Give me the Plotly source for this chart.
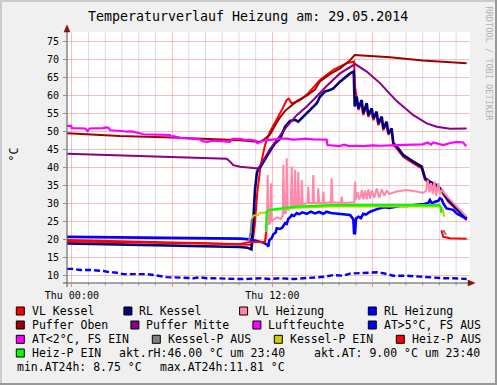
import plotly.graph_objects as go

# ---------------- data: (hour of day, value) ----------------
hour_ticks = [0, 6, 12, 18]
hour_labels = ["Thu 00:00", "", "Thu 12:00", ""]
minor_hours = [h for h in range(0, 24) if h % 6 != 0]

vl_kessel = [(-0.28, 19.7), (2.0, 19.5), (4.0, 19.3), (6.0, 19.1), (8.0, 18.8), (10.0, 18.5), (10.7, 18.3),
             (10.8, 18.4), (10.95, 24.0), (11.1, 33.0), (11.3, 40.5), (11.46, 44.5), (11.56, 46.1), (11.86, 49.8),
             (12.26, 53.1), (12.56, 55.8), (12.86, 58.6), (12.98, 59.0), (13.16, 57.7), (13.4, 58.0), (13.66, 58.6),
             (14.15, 60.5), (14.85, 64.2), (15.65, 67.0), (16.45, 68.8), (16.89, 69.3), (16.95, 62.3), (17.05, 59.0),
             (17.15, 55.8), (17.35, 58.1), (17.44, 54.4), (17.65, 57.2), (17.74, 53.9), (17.95, 55.8), (18.04, 53.0),
             (18.24, 54.9), (18.34, 51.6), (18.55, 53.5), (18.64, 50.2), (18.84, 52.1), (18.94, 48.9), (19.14, 50.2),
             (19.24, 46.1), (19.44, 45.2), (19.84, 42.8), (20.44, 41.0), (20.94, 39.6), (21.14, 36.4), (21.43, 35.4),
             (21.84, 34.5), (22.14, 33.1), (22.53, 30.3), (22.93, 28.5), (23.3, 27.0), (23.63, 25.2)]

rl_kessel = [(-0.28, 18.8), (2.0, 18.6), (4.0, 18.4), (6.0, 18.2), (8.0, 18.0), (10.07, 17.8), (10.5, 17.6),
             (10.75, 17.1), (10.86, 25.0), (10.96, 33.6), (11.07, 38.2), (11.16, 39.6), (11.3, 40.1), (11.46, 41.5),
             (11.66, 42.9), (11.96, 45.2), (12.16, 46.6), (12.46, 47.8), (12.76, 51.2), (13.06, 52.8), (13.36, 53.1),
             (13.55, 52.6), (13.85, 54.0), (14.25, 55.8), (14.66, 57.7), (14.85, 59.5), (15.15, 61.0), (15.45, 61.4),
             (15.65, 61.8), (16.05, 63.7), (16.45, 65.1), (16.65, 66.0), (16.87, 66.5), (16.93, 56.8), (17.05, 59.5),
             (17.15, 56.3), (17.35, 58.6), (17.44, 54.9), (17.65, 57.7), (17.74, 54.4), (17.95, 56.3), (18.04, 53.5),
             (18.24, 55.4), (18.34, 52.1), (18.55, 54.0), (18.64, 50.7), (18.84, 52.6), (18.94, 49.4), (19.14, 50.7),
             (19.24, 46.6), (19.44, 45.7), (19.84, 43.3), (20.44, 41.5), (20.94, 40.1), (21.14, 36.9), (21.43, 35.9),
             (21.84, 35.0), (22.14, 33.6), (22.53, 30.8), (22.93, 29.0), (23.3, 27.3), (23.63, 25.7)]

vl_heizung = [(11.56, 19.0), (11.66, 21.0), (11.72, 37.8), (11.78, 24.0), (11.88, 24.5), (11.92, 35.5), (11.97, 24.8),
              (12.1, 25.5), (12.3, 26.0), (12.5, 25.5), (12.62, 26.5), (12.66, 40.6), (12.72, 27.0), (12.82, 27.5),
              (12.86, 42.4), (12.92, 28.0), (13.1, 28.8), (13.16, 40.1), (13.22, 28.5), (13.32, 29.0), (13.36, 39.2),
              (13.42, 29.0), (13.52, 29.5), (13.55, 38.7), (13.61, 29.5), (13.72, 29.6), (13.76, 36.4), (13.82, 29.6),
              (14.1, 30.0), (14.15, 34.5), (14.2, 30.0), (14.4, 30.0), (14.45, 37.8), (14.5, 30.0), (14.7, 30.0),
              (14.75, 34.1), (14.8, 30.0), (15.0, 30.0), (15.05, 33.2), (15.1, 30.0), (15.5, 30.2), (15.55, 36.9),
              (15.6, 30.2), (16.1, 30.0), (16.15, 31.8), (16.2, 30.0), (16.9, 30.2), (16.95, 35.9), (17.0, 31.0),
              (17.1, 33.0), (17.2, 31.0), (17.3, 32.0), (17.35, 33.6), (17.45, 31.0), (17.55, 33.5), (17.65, 31.0),
              (17.75, 33.8), (17.85, 31.2), (17.95, 33.5), (18.1, 31.5), (18.25, 34.0), (18.4, 31.5), (18.55, 33.8),
              (18.7, 32.0), (18.85, 33.5), (19.0, 32.5), (19.44, 33.2), (20.04, 33.6), (20.64, 33.2), (21.04, 32.8),
              (21.2, 33.5), (21.3, 36.4), (21.4, 33.0), (21.5, 35.5), (21.6, 32.5), (21.7, 36.0), (21.8, 32.0),
              (21.93, 35.5), (22.03, 32.5), (22.14, 33.6), (22.53, 31.5), (22.93, 29.5), (23.33, 27.5), (23.63, 26.2)]

rl_heizung = [(-0.28, 20.6), (3.0, 20.5), (6.0, 20.4), (9.0, 20.2), (10.07, 20.1), (10.66, 19.9), (11.0, 19.6),
              (11.46, 19.0), (11.7, 18.4), (11.76, 17.9), (11.82, 19.7), (11.96, 20.2), (12.06, 21.3), (12.2, 21.8),
              (12.26, 23.0), (12.46, 22.8), (12.6, 23.2), (12.76, 24.4), (12.86, 24.2), (12.96, 25.6), (13.1, 26.2),
              (13.16, 26.7), (13.3, 26.4), (13.46, 27.2), (13.6, 26.9), (13.8, 27.4), (14.06, 27.0), (14.3, 27.6),
              (14.55, 27.1), (14.8, 27.5), (15.05, 27.0), (15.25, 27.6), (15.5, 27.2), (15.85, 27.1), (16.2, 26.9),
              (16.65, 26.7), (16.8, 25.8), (16.85, 25.3), (16.89, 21.6), (16.95, 21.6), (17.01, 25.7), (17.15, 26.2),
              (17.3, 25.8), (17.44, 27.0), (17.6, 26.8), (17.85, 27.6), (18.05, 27.9), (18.24, 28.3), (18.5, 28.6),
              (18.74, 28.8), (19.0, 28.6), (19.24, 28.8), (19.64, 29.2), (20.1, 29.2), (20.64, 29.4), (21.1, 29.7),
              (21.33, 30.0), (21.43, 30.8), (21.55, 29.9), (21.7, 30.3), (21.93, 30.6), (22.03, 31.3), (22.14, 31.0),
              (22.23, 29.9), (22.43, 28.5), (22.83, 28.1), (23.03, 27.1), (23.35, 26.4), (23.63, 25.6)]

puffer_oben = [(-0.28, 49.4), (2.88, 48.6), (6.0, 48.2), (9.0, 47.7), (10.07, 47.4), (10.96, 47.1), (11.26, 47.0),
               (11.46, 47.5), (11.86, 49.0), (12.16, 51.5), (12.46, 53.8), (12.76, 55.6), (13.06, 56.8), (13.46, 58.3),
               (14.06, 59.8), (14.55, 61.5), (14.85, 63.8), (15.45, 65.8), (16.05, 67.4), (16.55, 69.2), (16.93, 71.1),
               (19.04, 70.5), (21.0, 69.6), (23.63, 68.8)]

puffer_mitte = [(-0.28, 43.7), (4.0, 43.1), (8.0, 42.6), (9.27, 42.3), (9.47, 41.5), (9.66, 40.5), (10.07, 40.1),
                (10.96, 39.7), (11.16, 39.6), (11.46, 41.9), (11.86, 45.0), (12.26, 47.5), (12.86, 51.2), (13.46, 54.4),
                (14.06, 56.8), (14.55, 59.1), (15.25, 62.5), (16.05, 66.0), (16.85, 68.3), (16.95, 68.6), (17.65, 66.5),
                (18.44, 63.3), (19.44, 58.3), (20.44, 54.4), (21.24, 52.1), (21.84, 51.2), (22.63, 50.6), (23.63, 50.7)]

luftfeuchte = [(-0.28, 51.4), (-0.05, 51.4), (0.0, 50.8), (0.8, 50.7), (0.95, 50.0), (1.05, 50.7), (1.9, 50.8),
               (2.0, 51.0), (2.2, 50.9), (2.29, 50.2), (3.0, 50.0), (3.3, 49.8), (3.6, 49.9), (4.0, 49.4), (4.28, 49.1),
               (5.0, 49.0), (5.88, 48.9), (5.95, 48.2), (6.05, 48.6), (6.48, 48.1), (7.0, 48.0), (7.67, 47.7),
               (7.8, 47.2), (8.07, 47.0), (8.5, 47.3), (9.47, 47.0), (9.6, 47.8), (10.07, 47.8), (10.4, 47.5),
               (10.66, 47.6), (11.0, 47.3), (11.1, 46.6), (11.3, 47.0), (11.46, 47.3), (12.0, 47.6), (12.5, 47.9),
               (12.86, 47.9), (13.2, 47.6), (13.5, 47.7), (14.0, 47.9), (14.45, 47.7), (15.0, 47.6), (15.25, 47.6),
               (15.3, 46.1), (16.0, 45.8), (16.3, 46.2), (16.6, 45.8), (17.0, 45.9), (17.44, 45.8), (18.0, 46.0),
               (18.5, 45.9), (19.44, 46.1), (20.5, 46.1), (21.0, 46.3), (21.3, 46.8), (21.5, 46.2), (21.63, 46.8),
               (22.0, 46.4), (22.23, 46.1), (22.6, 46.6), (23.03, 47.0), (23.43, 46.8), (23.55, 46.0), (23.63, 45.9)]

at_fs_aus = [(-0.28, 11.7), (0.05, 11.7), (0.49, 11.4), (1.09, 11.4), (1.89, 11.1), (2.29, 10.75), (2.6, 10.7),
             (2.99, 10.5), (3.1, 10.25), (3.88, 10.25), (4.48, 10.25), (4.88, 10.0), (5.28, 9.8), (5.68, 9.4),
             (6.67, 9.25), (7.27, 9.1), (7.67, 9.35), (8.07, 9.1), (8.5, 9.1), (9.27, 8.9), (9.87, 8.9), (10.47, 8.9),
             (11.26, 9.1), (11.86, 8.9), (12.46, 9.1), (13.26, 8.9), (14.06, 9.25), (14.85, 9.55), (15.1, 9.5),
             (15.65, 10.0), (16.25, 9.8), (16.65, 10.4), (17.65, 10.75), (18.24, 10.75), (18.64, 10.5), (19.24, 9.8),
             (20.04, 9.8), (20.84, 9.55), (21.63, 9.25), (22.23, 9.1), (22.83, 9.1), (23.43, 8.9), (23.63, 8.9)]

at_fs_ein = []

kessel_p_aus = [(10.6, 19.5), (10.7, 22.0), (10.77, 25.6), None, (22.23, 22.5), (22.39, 21.2)]

kessel_p_ein = [(10.77, 25.6), (10.86, 26.5), (11.16, 26.7), (11.26, 27.3), (11.66, 27.3), (11.86, 27.9),
                (12.5, 28.3), (13.5, 28.7), (15.45, 29.0), (19.0, 29.0), (22.03, 29.0), (22.18, 28.6),
                (22.23, 27.6), (22.29, 26.2)]

heiz_p_aus = [(-0.28, 19.3), (3.0, 19.1), (6.0, 18.9), (9.0, 18.7), (10.07, 18.6), (10.66, 19.2), (11.56, 19.2),
              (11.62, 22.0), None, (22.12, 22.4), (22.23, 20.6), (22.63, 20.2), (23.63, 20.1)]

heiz_p_ein = [(11.62, 22.0), (11.66, 27.6), (11.86, 28.1), (12.66, 28.5), (13.46, 29.0), (15.45, 29.4),
              (22.0, 29.4), (22.06, 29.0), (22.12, 27.3)]

info_texts = ["akt.rH:46.00 °C um 23:40", "akt.AT: 9.00 °C um 23:40",
              "min.AT24h: 8.75 °C", "max.AT24h:11.81 °C"]

# ---------------- geometry ----------------
W, H = 497, 385
L, R, T, B = 67, 27, 32, 102
PW, PH = W - L - R, H - T - B
MONO = "DejaVu Sans Mono"


def fx(x):
    return (x - L) / PW


def fy(y):
    return (H - B - y) / PH


fig = go.Figure()

series = [
    ("VL Kessel", vl_kessel, "#ff0000", 2.0, None),
    ("RL Kessel", rl_kessel, "#000080", 2.6, None),
    ("VL Heizung", vl_heizung, "#ff88aa", 2.0, None),
    ("RL Heizung", rl_heizung, "#0000ff", 2.6, None),
    ("Puffer Oben", puffer_oben, "#a00000", 2.0, None),
    ("Puffer Mitte", puffer_mitte, "#880088", 2.0, None),
    ("Luftfeuchte", luftfeuchte, "#ff00ff", 2.2, None),
    ("AT>5°C, FS AUS", at_fs_aus, "#0000ff", 2.4, "6px,3px"),
    ("AT<2°C, FS EIN", at_fs_ein, "#ff00ff", 2.0, None),
    ("Kessel-P AUS", kessel_p_aus, "#808080", 2.0, None),
    ("Kessel-P EIN", kessel_p_ein, "#cccc00", 2.0, None),
    ("Heiz-P AUS", heiz_p_aus, "#ff0000", 2.0, None),
    ("Heiz-P EIN", heiz_p_ein, "#00ff00", 2.2, None),
]

for name, pairs, color, width, dash in series:
    xs = [p[0] if p is not None else None for p in pairs]
    ys = [p[1] if p is not None else None for p in pairs]
    fig.add_trace(go.Scatter(x=xs, y=ys, mode="lines", name=name,
                             line=dict(color=color, width=width, dash=dash),
                             connectgaps=False, hoverinfo="skip", showlegend=False))

fig.update_layout(
    width=W, height=H,
    margin=dict(l=L, r=R, t=T, b=B, autoexpand=False),
    paper_bgcolor="#f0f0f0", plot_bgcolor="#ffffff",
    showlegend=False,
    font=dict(family=MONO, size=10, color="#000000"),
)

fig.update_xaxes(
    range=[-0.29, 23.83], tickmode="array", tickvals=hour_ticks, ticktext=hour_labels,
    showgrid=True, gridcolor="rgba(255,0,0,0.25)", gridwidth=1, zeroline=False, showline=False,
    ticks="outside", ticklen=3, tickcolor="#ff8080", tickfont=dict(family=MONO, size=10),
)
fig.update_yaxes(
    range=[7.78, 77.5], tickmode="linear", tick0=0, dtick=5,
    showgrid=True, gridcolor="rgba(255,0,0,0.25)", gridwidth=1, zeroline=False, showline=False,
    ticks="outside", ticklen=3, tickcolor="#909090", tickfont=dict(family=MONO, size=10),
    ticklabelstandoff=2,
)

shapes = []
# hourly minor grid lines
for h in minor_hours:
    shapes.append(dict(type="line", xref="x", yref="paper", x0=h, x1=h, y0=0, y1=1, layer="below",
                       line=dict(color="rgba(128,128,128,0.27)", width=1)))
    shapes.append(dict(type="line", xref="x", yref="paper", x0=h, x1=h, y0=0, y1=fy(285.5),
                       line=dict(color="#a0a0a0", width=1)))
# axis lines
shapes.append(dict(type="line", xref="paper", yref="paper", x0=fx(63), x1=fx(470), y0=fy(283), y1=fy(283),
                   line=dict(color="#505050", width=1)))
shapes.append(dict(type="line", xref="paper", yref="paper", x0=fx(67), x1=fx(67), y0=fy(287), y1=fy(30),
                   line=dict(color="#505050", width=1)))
# arrows
shapes.append(dict(type="path", xref="paper", yref="paper",
                   path=f"M {fx(67)} {fy(25)} L {fx(64)} {fy(32)} L {fx(70)} {fy(32)} Z",
                   fillcolor="#8b1010", line=dict(color="#8b1010", width=0.5)))
shapes.append(dict(type="path", xref="paper", yref="paper",
                   path=f"M {fx(475)} {fy(283)} L {fx(468)} {fy(280)} L {fx(468)} {fy(286)} Z",
                   fillcolor="#8b1010", line=dict(color="#8b1010", width=0.5)))
# frame
shapes.append(dict(type="rect", xref="paper", yref="paper", x0=fx(0), x1=fx(497), y0=fy(0), y1=fy(2),
                   fillcolor="#cbcbcb", line=dict(width=0)))
shapes.append(dict(type="rect", xref="paper", yref="paper", x0=fx(0), x1=fx(2), y0=fy(0), y1=fy(385),
                   fillcolor="#cbcbcb", line=dict(width=0)))
shapes.append(dict(type="rect", xref="paper", yref="paper", x0=fx(0), x1=fx(497), y0=fy(383), y1=fy(385),
                   fillcolor="#999999", line=dict(width=0)))
shapes.append(dict(type="rect", xref="paper", yref="paper", x0=fx(495), x1=fx(497), y0=fy(0), y1=fy(385),
                   fillcolor="#999999", line=dict(width=0)))

annotations = []
LEG = 11.5
rows_y = [311, 325, 339.3, 353, 367.3]
legend_pos = [
    (0, 30.7), (0, 138.3), (0, 254), (0, 382.7),
    (1, 30.7), (1, 145.3), (1, 267.3), (1, 382.7),
    (2, 30.7), (2, 166.7), (2, 288.7), (2, 410.7),
    (3, 30.7),
]
for (row, tx), (name, _, color, _, _) in zip(legend_pos, series):
    yc = rows_y[row]
    shapes.append(dict(type="rect", xref="paper", yref="paper", x0=fx(tx - 14.4), x1=fx(tx - 6.4),
                       y0=fy(yc - 4), y1=fy(yc + 4), fillcolor=color, line=dict(color="#000000", width=1)))
    annotations.append(dict(text=name, x=fx(tx - 1), y=fy(yc), xref="paper", yref="paper",
                            xanchor="left", yanchor="middle", showarrow=False, font=dict(family=MONO, size=LEG)))

for (row, tx), txt in zip([(3, 118), (3, 312.7), (4, 16.3), (4, 158.7)], info_texts):
    annotations.append(dict(text=txt, x=fx(tx - 1), y=fy(rows_y[row]), xref="paper", yref="paper",
                            xanchor="left", yanchor="middle", showarrow=False, font=dict(family=MONO, size=LEG)))

annotations.append(dict(text="Temperaturverlauf Heizung am: 29.05.2014", x=fx(248), y=fy(16.5),
                        xref="paper", yref="paper", xanchor="center", yanchor="middle", showarrow=False,
                        font=dict(family=MONO, size=13.3)))
annotations.append(dict(text="°C", x=fx(13.5), y=fy(155), xref="paper", yref="paper", xanchor="center",
                        yanchor="middle", showarrow=False, textangle=-90, font=dict(family=MONO, size=11.5)))
annotations.append(dict(text="RRDTOOL / TOBI OETIKER", x=fx(488.5), y=fy(64), xref="paper", yref="paper",
                        xanchor="center", yanchor="middle", showarrow=False, textangle=90,
                        font=dict(family=MONO, size=8.6, color="#b4b4b4")))

fig.update_layout(shapes=shapes, annotations=annotations)
fig.write_html("out.html", config={"displayModeBar": False},
               post_script="document.documentElement.style.margin='0';document.body.style.margin='0';"
                           "document.body.style.padding='0';document.body.style.overflow='hidden';")
